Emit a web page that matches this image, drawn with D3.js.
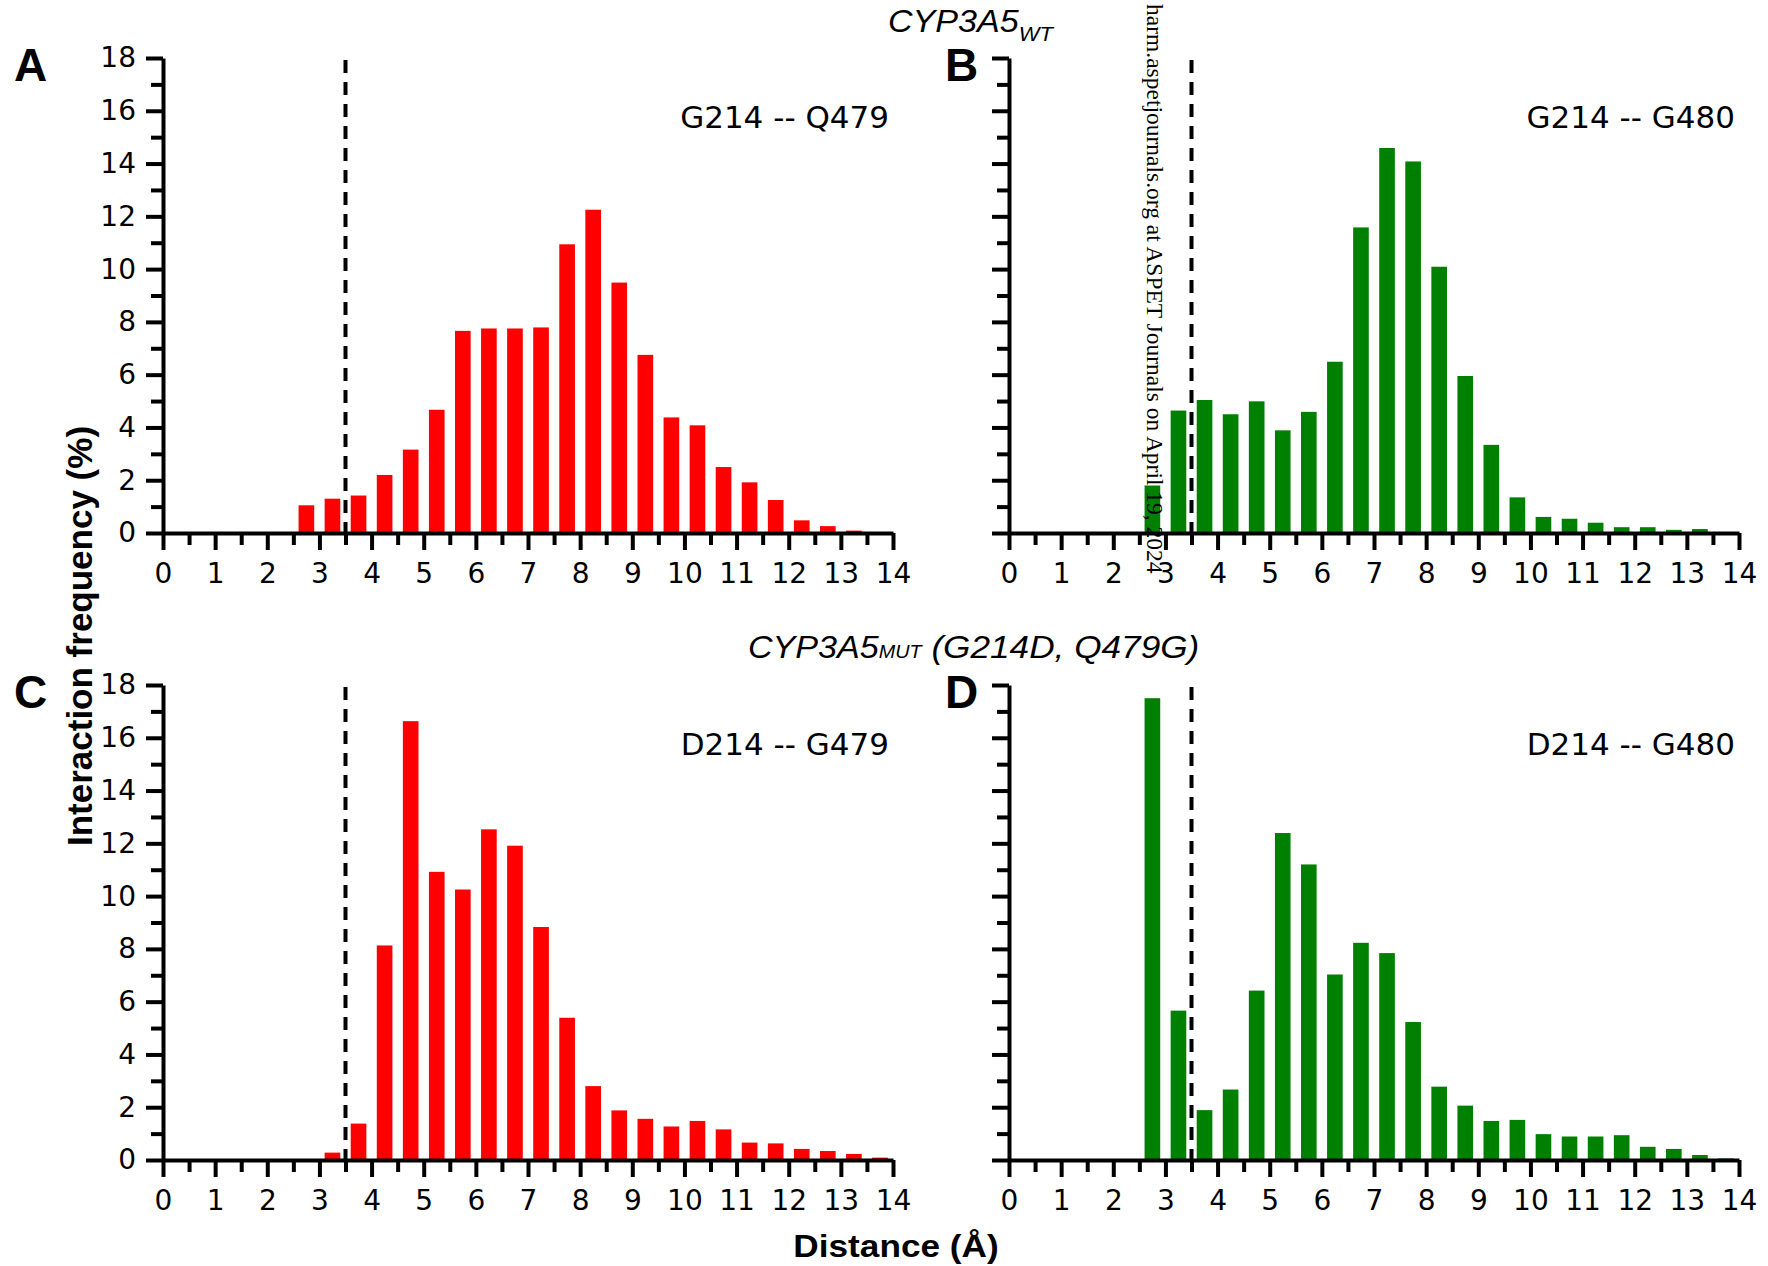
<!DOCTYPE html>
<html>
<head>
<meta charset="utf-8">
<script src="https://cdn.jsdelivr.net/npm/d3@7"></script>
<style>
body { margin: 0; background: #fff; }
</style>
</head>
<body>
<div id="theGraph"></div>
<script>
// histogram bins (centre of each 0.5 Å bin)
const binCenters = [2.75, 3.25, 3.75, 4.25, 4.75, 5.25, 5.75, 6.25, 6.75, 7.25, 7.75, 8.25,
                    8.75, 9.25, 9.75, 10.25, 10.75, 11.25, 11.75, 12.25, 12.75, 13.25, 13.75];
const freqA = [1.05, 1.3, 1.42, 2.2, 3.16, 4.67, 7.66, 7.75, 7.75, 7.79, 10.94, 12.25,
               9.49, 6.75, 4.38, 4.08, 2.5, 1.92, 1.25, 0.48, 0.26, 0.09, 0];
const freqB = [1.8, 4.64, 5.04, 4.5, 4.99, 3.89, 4.59, 6.49, 11.58, 14.59, 14.08, 10.09,
               5.95, 3.34, 1.35, 0.61, 0.54, 0.39, 0.22, 0.22, 0.12, 0.15, 0];
const freqC = [0, 0.28, 1.38, 8.13, 16.63, 10.92, 10.25, 12.53, 11.91, 8.83, 5.39, 2.8,
               1.88, 1.56, 1.27, 1.48, 1.16, 0.66, 0.63, 0.42, 0.34, 0.23, 0.09];
const freqD = [17.5, 5.66, 1.89, 2.67, 6.42, 12.39, 11.2, 7.03, 8.23, 7.84, 5.23, 2.78,
               2.06, 1.48, 1.52, 0.98, 0.89, 0.89, 0.94, 0.5, 0.42, 0.19, 0.06];
const xTicks = [0, 1, 2, 3, 4, 5, 6, 7, 8, 9, 10, 11, 12, 13, 14];
const xMinorTicks = [0.5, 1.5, 2.5, 3.5, 4.5, 5.5, 6.5, 7.5, 8.5, 9.5, 10.5, 11.5, 12.5, 13.5];
const yTicks = [0, 2, 4, 6, 8, 10, 12, 14, 16, 18];
const yMinorTicks = [1, 3, 5, 7, 9, 11, 13, 15, 17];
const cutoff = 3.5;
const barWidth = 0.3;

const width = 1768, height = 1266, plotW = 730, plotH = 475;

const panels = [
  {letter: "A", pair: "G214 -- Q479", values: freqA, color: "#ff0000", left: 163, top: 58, letterX: 14, yLabels: true},
  {letter: "B", pair: "G214 -- G480", values: freqB, color: "#008000", left: 1009, top: 58, letterX: 945, yLabels: false},
  {letter: "C", pair: "D214 -- G479", values: freqC, color: "#ff0000", left: 163, top: 685, letterX: 14, yLabels: true},
  {letter: "D", pair: "D214 -- G480", values: freqD, color: "#008000", left: 1009, top: 685, letterX: 945, yLabels: false}
];

const svg = d3.select("#theGraph").append("svg").attr("width", width).attr("height", height)
    .style("background", "#fff");

function styleAxis(g){
    g.selectAll("path").attr("stroke", "#000").attr("stroke-width", 4);
    g.selectAll("line").attr("stroke", "#000").attr("stroke-width", 4);
    g.selectAll("text").attr("fill", "#000").style("font-family", "DejaVu Sans").style("font-size", "28px");
}

panels.forEach(p => {
    const xScale = d3.scaleLinear().domain([0, 14]).range([p.left, p.left + plotW]);
    const yScale = d3.scaleLinear().domain([0, 18]).range([p.top + plotH, p.top]);
    const g = svg.append("g");

    // bars
    g.selectAll(".bar").data(binCenters.map((c, i) => ({c: c, v: p.values[i]})).filter(d => d.v > 0))
      .enter().append("rect").attr("class", "bar")
      .attr("x", d => xScale(d.c - barWidth / 2))
      .attr("width", xScale(barWidth) - xScale(0))
      .attr("y", d => yScale(d.v))
      .attr("height", d => yScale(0) - yScale(d.v))
      .attr("fill", p.color);

    // dashed cutoff
    g.append("line")
      .attr("x1", xScale(cutoff)).attr("x2", xScale(cutoff))
      .attr("y1", yScale(18) + 2).attr("y2", yScale(0))
      .attr("stroke", "#000").attr("stroke-width", 4).attr("stroke-dasharray", "13,9");

    // x axis
    const xMinor = g.append("g").attr("transform", `translate(0,${yScale(0)})`)
      .call(d3.axisBottom(xScale).tickValues(xMinorTicks).tickSize(12).tickSizeOuter(0).tickFormat(""));
    xMinor.select(".domain").remove();
    styleAxis(xMinor);
    const xMajor = g.append("g").attr("transform", `translate(0,${yScale(0)})`)
      .call(d3.axisBottom(xScale).tickValues(xTicks).tickSize(17).tickSizeOuter(0).tickPadding(13).tickFormat(d3.format("d")));
    styleAxis(xMajor);

    // y axis
    const yMinor = g.append("g").attr("transform", `translate(${xScale(0)},0)`)
      .call(d3.axisLeft(yScale).tickValues(yMinorTicks).tickSize(12).tickSizeOuter(0).tickFormat(""));
    yMinor.select(".domain").remove();
    styleAxis(yMinor);
    const yMajor = g.append("g").attr("transform", `translate(${xScale(0)},0)`)
      .call(d3.axisLeft(yScale).tickValues(yTicks).tickSize(17).tickSizeOuter(0).tickPadding(10)
        .tickFormat(p.yLabels ? d3.format("d") : ""));
    styleAxis(yMajor);

    // residue pair label
    g.append("text").attr("x", xScale(14) - 4).attr("y", p.top + 70)
      .attr("text-anchor", "end").style("font-family", "DejaVu Sans").style("font-size", "31px")
      .text(p.pair);

    // panel letter
    g.append("text").attr("x", p.letterX).attr("y", p.top + 23)
      .style("font-family", "Liberation Sans, Arial, sans-serif").style("font-weight", "bold").style("font-size", "46px")
      .text(p.letter);
});

// section titles
const t1 = svg.append("text").attr("transform", "translate(888,32) scale(1.1,1)")
    .style("font-family", "Liberation Sans, Arial, sans-serif").style("font-style", "italic").style("font-size", "31px");
t1.append("tspan").text("CYP3A5");
t1.append("tspan").attr("dy", 9).style("font-size", "20px").text("WT");

const t2 = svg.append("text").attr("transform", "translate(748,658) scale(1.1,1)")
    .style("font-family", "Liberation Sans, Arial, sans-serif").style("font-style", "italic").style("font-size", "31px");
t2.append("tspan").text("CYP3A5");
t2.append("tspan").style("font-size", "18px").text("MUT");
t2.append("tspan").style("font-size", "32px").text(" (G214D, Q479G)");

// axis titles
svg.append("text").attr("transform", "translate(92,636) rotate(-90)")
    .attr("text-anchor", "middle")
    .style("font-family", "Liberation Sans, Arial, sans-serif").style("font-weight", "bold").style("font-size", "35px")
    .text("Interaction frequency (%)");

svg.append("text").attr("transform", "translate(896,1257) scale(1.1,1)")
    .attr("text-anchor", "middle")
    .style("font-family", "Liberation Sans, Arial, sans-serif").style("font-weight", "bold").style("font-size", "32px")
    .text("Distance (Å)");

// download watermark (its start is cut off at the top edge in the source)
svg.append("text").attr("transform", "translate(1147,4) rotate(90)")
    .attr("text-anchor", "start")
    .style("font-family", "Liberation Serif, serif").style("font-size", "23.5px")
    .text("harm.aspetjournals.org at ASPET Journals on April 19, 2024");
</script>
</body>
</html>
